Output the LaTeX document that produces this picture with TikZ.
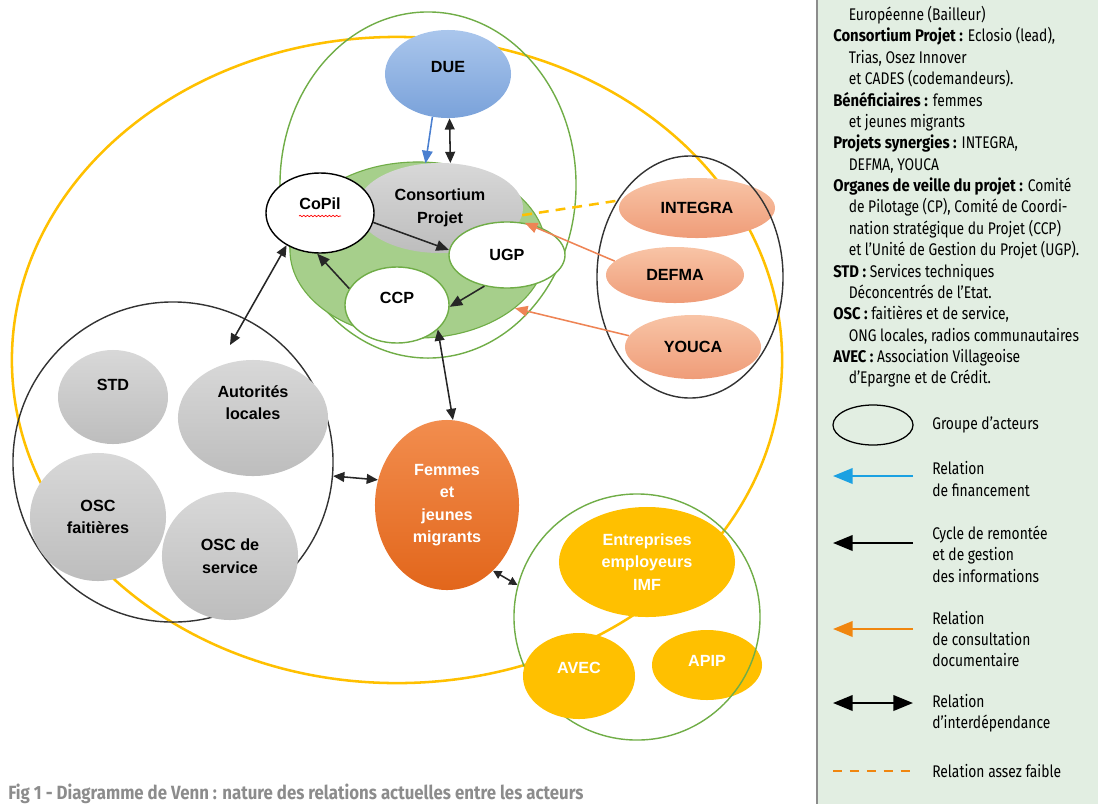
\documentclass[tikz,border=0pt]{standalone}
\usepackage{fontspec}
\setmainfont{Liberation Sans}
\newfontfamily\notefont[FakeStretch=0.82, BoldFeatures={FakeStretch=0.88}]{Fira Sans}
\usetikzlibrary{arrows.meta, shapes.geometric, calc, decorations.pathmorphing}
\definecolor{venYellow}{HTML}{FFC000}
\definecolor{venGreen}{HTML}{70AD47}
\definecolor{venGreenFill}{HTML}{A6CF8B}
\definecolor{venBlueTop}{HTML}{AAC6EC}
\definecolor{venBlueBot}{HTML}{7AA2DA}
\definecolor{venGreyTop}{HTML}{D8D8D8}
\definecolor{venGreyBot}{HTML}{BDBDBD}
\definecolor{venSalmonTop}{HTML}{F8C4A6}
\definecolor{venSalmonBot}{HTML}{EF9C78}
\definecolor{venOrangeTop}{HTML}{F28D4E}
\definecolor{venOrangeBot}{HTML}{E2661B}
\definecolor{venArrowBlue}{HTML}{4A7FD0}
\definecolor{venArrowOrange}{HTML}{EE8455}
\definecolor{legBlue}{HTML}{1BA1E2}
\definecolor{legOrange}{HTML}{F0860F}
\definecolor{legBg}{HTML}{E2EEE2}
\definecolor{legRule}{HTML}{8C8C8C}
\definecolor{capGrey}{HTML}{8C8C8C}
\newcommand{\ind}{\hspace*{11pt}}

\begin{document}
\begin{tikzpicture}[x=0.025cm, y=-0.025cm,
    blob/.style={ellipse, inner sep=0pt, align=center,
      font=\bfseries\fontsize{11.5}{16}\selectfont},
    greyblob/.style={blob, top color=venGreyTop, bottom color=venGreyBot},
    salmonblob/.style={blob, top color=venSalmonTop, bottom color=venSalmonBot},
    yellowblob/.style={blob, fill=venYellow, text=white},
    whiteblob/.style={blob, fill=white, line width=1pt},
    group/.style={ellipse, inner sep=0pt},
    txtup/.style={text depth=#1},
    arr/.style={-{Triangle[length=9pt,width=7.5pt]}, line width=1.1pt, black!85},
    darr/.style={{Triangle[length=8pt,width=7pt]}-{Triangle[length=8pt,width=7pt]},
      line width=1.1pt, black!85},
    fund/.style={-{Triangle[length=9pt,width=7.5pt]}, line width=1.1pt, venArrowBlue},
    consult/.style={-{Triangle[length=9pt,width=7.5pt]}, line width=1.1pt, venArrowOrange},
    weak/.style={line width=1.8pt, venYellow, dash pattern=on 7pt off 5pt},
    legtext/.style={inner sep=0pt, align=left, font=\notefont\fontsize{12}{15.2}\selectfont},
    legtip/.style={line width=1.7pt}]
  \useasboundingbox (0,0) rectangle (1098,804);

  % legend panel
  \fill[legBg] (818,0) rectangle (1098,804);
  \draw[legRule, line width=2pt] (817,0) -- (817,804);

  % groups of actors
  \node[group, draw=venYellow, line width=1.8pt, minimum width=19.25cm, minimum height=16.15cm] (grpall) at (397,360) {};
  \node[group, draw=venGreen, line width=1pt, minimum width=7.4cm, minimum height=8.65cm] (grpcons) at (428,185) {};
  \node[group, fill=venGreenFill, draw=venGreen, line width=0.8pt, minimum width=6.4cm, minimum height=4.4cm] (core) at (418,250) {};
  \node[group, draw=black!80, line width=1pt, minimum width=8cm, minimum height=8cm] (grplocal) at (173,462) {};

  % projet
  \node[blob, top color=venBlueTop, bottom color=venBlueBot, minimum width=3.15cm, minimum height=2.2cm, txtup=10pt] (due) at (448,74) {DUE};
  \node[greyblob, minimum width=4.15cm, minimum height=2.25cm] (cons) at (440,208) {Consortium\\Projet};
  \node[whiteblob, draw=black, minimum width=2.7cm, minimum height=2cm, txtup=14pt] (copil) at (320,213) {CoPil};
  \node[whiteblob, draw=venGreen, minimum width=2.9cm, minimum height=1.65cm] (ugp) at (507,255) {UGP};
  \node[whiteblob, draw=venGreen, minimum width=2.6cm, minimum height=1.9cm, txtup=10pt] (ccp) at (397,305) {CCP};
  \draw[red, line width=0.5pt, decorate, decoration={snake, amplitude=0.5pt, segment length=2.6pt}]
    ($(copil.center)+(-21,3)$) -- ($(copil.center)+(21,3)$);

  % acteurs locaux
  \node[greyblob, minimum width=2.75cm, minimum height=2.35cm, txtup=17pt] (std) at (113,397) {STD};
  \node[greyblob, minimum width=3.75cm, minimum height=2.9cm, txtup=22pt] (autor) at (253,418) {Autorités\\locales};
  \node[greyblob, minimum width=3.4cm, minimum height=3.2cm] (oscf) at (98,517) {OSC\\faitières};
  \node[greyblob, minimum width=3.4cm, minimum height=3.2cm] (oscs) at (230,556) {OSC de\\service};

  % beneficiaires
  \node[blob, top color=venOrangeTop, bottom color=venOrangeBot, text=white, minimum width=3.6cm, minimum height=4.25cm] (femmes) at (447,505) {Femmes\\et\\jeunes\\migrants};

  % entreprises
  \node[yellowblob, minimum width=4.4cm, minimum height=2.75cm] (entr) at (647,562) {Entreprises\\employeurs\\IMF};
  \node[yellowblob, minimum width=2.75cm, minimum height=1.75cm, txtup=6pt] (apip) at (707,665) {APIP};
  \node[group, draw=venGreen, line width=1pt, minimum width=6.15cm, minimum height=6.15cm] (grpent) at (637,617) {};
  \node[yellowblob, minimum width=2.8cm, minimum height=2.15cm, txtup=11pt] (avec) at (579,676) {AVEC};

  % projets synergies
  \node[salmonblob, minimum width=3.9cm, minimum height=1.5cm] (integra) at (697,208) {INTEGRA};
  \node[salmonblob, minimum width=3.45cm, minimum height=1.4cm] (defma) at (675,275) {DEFMA};
  \node[salmonblob, minimum width=3.4cm, minimum height=1.6cm] (youca) at (693,347) {YOUCA};
  \node[group, draw=black!80, line width=1pt, minimum width=4.65cm, minimum height=6.05cm] (grpsyn) at (690,277) {};

  % relations
  \draw[fund] (due.250) -- (cons.108);
  \draw[darr] (due.-88) -- (cons.77);
  \draw[arr] (copil.-10) -- (ugp.175);
  \draw[arr] (ugp.234) -- (ccp.-2);
  \draw[arr] (ccp.161) -- (copil.266);
  \coordinate (localtip) at (230,345);
  \draw[darr] (copil.224) -- (localtip);
  \draw[darr] (ccp.-31) -- (femmes.86);
  \draw[darr] (grplocal.-5) -- (femmes.160);
  \draw[darr, {Triangle[length=6pt,width=6pt]}-{Triangle[length=6pt,width=6pt]}] (femmes.-55) -- (grpent.165);
  \draw[consult] (defma.167) -- (ugp.61);
  \draw[consult] (youca.170) -- (core.-31);
  \draw[weak] (cons.-5) -- (integra.174);

  % legend
  \node[legtext, anchor=north west] (notes) at (833,6) {%
    \ind Européenne (Bailleur)\\
    \textbf{Consortium Projet :} Eclosio (lead),\\
    \ind Trias, Osez Innover\\
    \ind et CADES (codemandeurs).\\
    \textbf{Bénéficiaires :} femmes\\
    \ind et jeunes migrants\\
    \textbf{Projets synergies :} INTEGRA,\\
    \ind DEFMA, YOUCA\\
    \textbf{Organes de veille du projet :} Comité\\
    \ind de Pilotage (CP), Comité de Coordi-\\
    \ind nation stratégique du Projet (CCP)\\
    \ind et l’Unité de Gestion du Projet (UGP).\\
    \textbf{STD :} Services techniques\\
    \ind Déconcentrés de l’Etat.\\
    \textbf{OSC :} faitières et de service,\\
    \ind ONG locales, radios communautaires\\
    \textbf{AVEC :} Association Villageoise\\
    \ind d’Epargne et de Crédit.};

  \node[group, draw=black, line width=0.9pt, minimum width=2cm, minimum height=1cm] (keygrp) at (873,425) {};
  \node[legtext, anchor=west] (keygrptxt) at (932,425) {Groupe d’acteurs};
  \draw[legtip, legBlue, -{Triangle[length=14pt,width=11pt]}] (913,476) -- (833,476);
  \node[legtext, anchor=west] (keyfund) at (932,479) {Relation\\de financement};
  \draw[legtip, black, -{Triangle[length=14pt,width=11pt]}] (913,543) -- (833,543);
  \node[legtext, anchor=west] (keycycle) at (932,554) {Cycle de remontée\\et de gestion\\des informations};
  \draw[legtip, legOrange, -{Triangle[length=14pt,width=11pt]}] (913,629) -- (833,629);
  \node[legtext, anchor=west] (keyconsult) at (932,639) {Relation\\de consultation\\documentaire};
  \draw[legtip, black, {Triangle[length=14pt,width=11pt]}-{Triangle[length=14pt,width=11pt]}] (833,703) -- (913,703);
  \node[legtext, anchor=west] (keyinter) at (932,713) {Relation\\d’interdépendance};
  \draw[legtip, legOrange, dash pattern=on 6.5pt off 5.5pt] (833,771) -- (913,771);
  \node[legtext, anchor=west] (keyweak) at (932,771) {Relation assez faible};

  % caption
  \node[anchor=base west, inner sep=0pt, text=capGrey, font=\notefont\bfseries\fontsize{13.6}{16}\selectfont] (caption) at (8,799)
    {Fig 1 - Diagramme de Venn : nature des relations actuelles entre les acteurs};
\end{tikzpicture}
\end{document}
